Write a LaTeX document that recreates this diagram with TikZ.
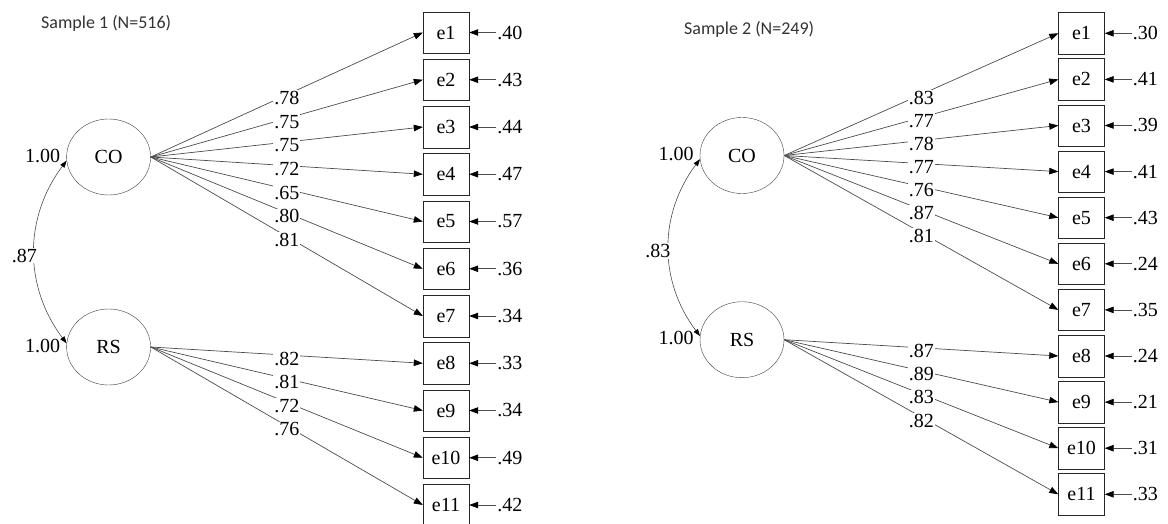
\documentclass[tikz,border=0pt]{standalone}
\usepackage{fontspec}
\setmainfont{Liberation Serif}
\newfontfamily\titlefont{Carlito}
\usetikzlibrary{
  arrows.meta,
  positioning,
  shapes.geometric
}
\tikzset{
  latent/.style={draw=black!75, ellipse, minimum width=84pt, minimum height=76pt, inner sep=0pt},
  indicator/.style={draw=black!85, rectangle, minimum width=46pt, minimum height=41.5pt, inner sep=0pt},
  lbl/.style={inner sep=1pt},
  load/.style={lbl, pos=.5, fill=white, yshift=-3.5pt},
  title/.style={anchor=west, inner sep=0pt, font=\titlefont\fontsize{18}{22}\selectfont, text=black!80},
  arr/.style={draw=black!70, line width=.7pt, -{Triangle[length=9pt,width=6.5pt,black]}},
  covarr/.style={draw=black!70, line width=.6pt, {Triangle[length=7pt,width=5pt,black]}-{Triangle[length=7pt,width=5pt,black]}},
}
\begin{document}
\begin{tikzpicture}[x=1pt, y=-1pt]
  \fontsize{20}{24}\selectfont
  \useasboundingbox (0,0) rectangle (1168,524);
  % sample 1
  \node[title] (t1) at (41,23) {Sample 1 (N=516)};
  \node[latent] (CO1) at (108.6,157) {CO};
  \node[latent] (RS1) at (108.6,347) {RS};
  \node[lbl, left=5pt of CO1, yshift=1.5pt] (vCO1) {1.00};
  \node[lbl, left=5pt of RS1, yshift=1.5pt] (vRS1) {1.00};
  \draw[covarr] (CO1.185) to[bend right=37] node[load, xshift=-10pt] (c1) {.87} (RS1.175);
  \foreach \i/\f/\l/\u in {1/CO1/.78/.40, 2/CO1/.75/.43, 3/CO1/.75/.44, 4/CO1/.72/.47,
      5/CO1/.65/.57, 6/CO1/.80/.36, 7/CO1/.81/.34, 8/RS1/.82/.33, 9/RS1/.81/.34,
      10/RS1/.72/.49, 11/RS1/.76/.42} {
    \node[indicator] (a\i) at (446,{32.5+47.25*(\i-1)}) {e\i};
    \node[lbl, right=27pt of a\i] (ua\i) {\u};
    \draw[arr] (ua\i) -- (a\i);
    \draw[arr] (\f.east) -- node[load] {\l} (a\i.west);
  }
  % sample 2
  \node[title] (t2) at (684,29) {Sample 2 (N=249)};
  \node[latent] (CO2) at (742,155.5) {CO};
  \node[latent] (RS2) at (742,339.7) {RS};
  \node[lbl, left=5pt of CO2, yshift=1.5pt] (vCO2) {1.00};
  \node[lbl, left=5pt of RS2, yshift=1.5pt] (vRS2) {1.00};
  \draw[covarr] (CO2.185) to[bend right=37] node[load, xshift=-11pt] (c2) {.83} (RS2.175);
  \foreach \i/\f/\l/\u in {1/CO2/.83/.30, 2/CO2/.77/.41, 3/CO2/.78/.39, 4/CO2/.77/.41,
      5/CO2/.76/.43, 6/CO2/.87/.24, 7/CO2/.81/.35, 8/RS2/.87/.24, 9/RS2/.89/.21,
      10/RS2/.83/.31, 11/RS2/.82/.33} {
    \node[indicator] (b\i) at (1081.5,{33.3+46.1*(\i-1)}) {e\i};
    \node[lbl, right=27pt of b\i] (ub\i) {\u};
    \draw[arr] (ub\i) -- (b\i);
    \draw[arr] (\f.east) -- node[load] {\l} (b\i.west);
  }
\end{tikzpicture}
\end{document}
